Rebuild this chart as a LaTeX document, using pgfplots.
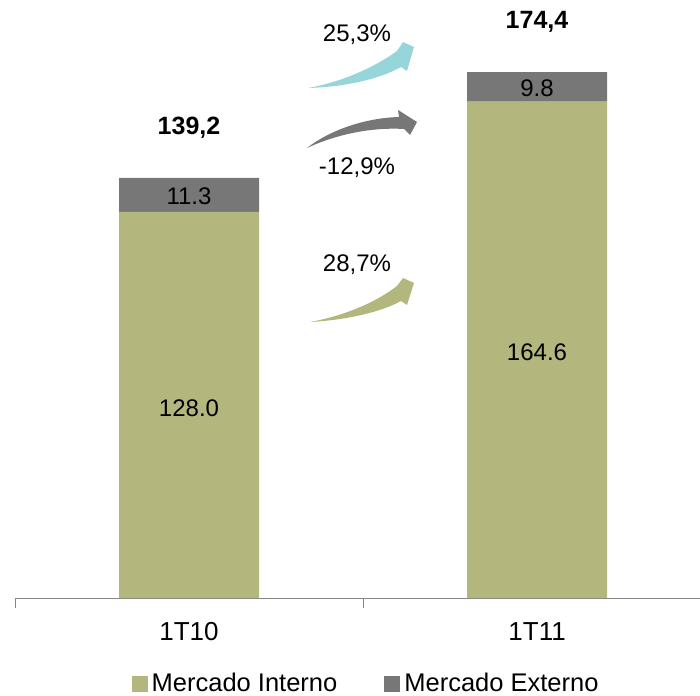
\documentclass[border=0pt]{standalone}
\usepackage{pgfplots}
\pgfplotsset{compat=1.18}
\usepackage{fontspec}
\setmainfont{Liberation Sans}

\definecolor{interno}{RGB}{179,182,125}
\definecolor{externo}{RGB}{119,119,119}
\definecolor{arrteal}{RGB}{150,213,217}
\definecolor{axisgray}{RGB}{134,134,134}

\newcommand{\lbl}{\fontsize{12}{14}\selectfont}

\begin{document}
\begin{tikzpicture}
\begin{axis}[
    scale only axis,
    width=342.5pt, height=299pt,
    ybar stacked,
    bar width=70pt,
    xmin=-0.5, xmax=1.468,
    ymin=0, ymax=198.3,
    xtick={0,1},
    xticklabels={1T10,1T11},
    major tick length=0pt,
    extra x ticks={-0.5,0.5},
    extra x tick labels={},
    extra x tick style={major tick length=5pt, tick align=outside},
    xtick style={draw=axisgray},
    axis x line*=bottom,
    hide y axis,
    x axis line style={draw=axisgray},
    xticklabel style={font=\fontsize{13}{15}\selectfont, anchor=center, yshift=-17pt},
    legend style={at={(0.514,-0.144)}, anchor=center, draw=none,
        font=\fontsize{12.75}{15}\selectfont,
        legend columns=2,
        /tikz/every even column/.append style={column sep=21.5pt}},
    legend image code/.code={\fill[#1] (0pt,-4pt) rectangle (8pt,4pt);},
    clip=false,
]
\addplot[fill=interno, draw=none] coordinates {(0,128.0) (1,164.6)};
\addplot[fill=externo, draw=none] coordinates {(0,11.3) (1,9.8)};
\legend{Mercado Interno, Mercado Externo}
\end{axis}

% pixel-like frame: x right, y down, origin at the top-left of the picture
\begin{scope}[x=0.5pt, y=-0.5pt, shift={(-7.5pt,299pt)}]
  % values inside the segments
  \node[font=\lbl] at (189,408) {128.0};
  \node[font=\lbl] at (189,196) {11.3};
  \node[font=\lbl] at (537,352) {164.6};
  \node[font=\lbl] at (537,88) {9.8};
  % totals
  \node[font=\fontsize{12.5}{15}\selectfont\bfseries] at (189,128) {139,2};
  \node[font=\fontsize{12.5}{15}\selectfont\bfseries] at (537,22) {174,4};
  % growth labels
  \node[font=\lbl] at (357,35) {25,3\%};
  \node[font=\lbl] at (357,168) {-12,9\%};
  \node[font=\lbl] at (357,265) {28,7\%};
  % curved arrows
  \fill[arrteal] (308,88) .. controls (345,87) and (380,79) .. (401,67)
      -- (407,71) -- (414,47) -- (403,42) -- (397,51)
      .. controls (375,67) and (342,82) .. (308,88) -- cycle;
  \fill[externo] (307,148) .. controls (330,130) and (365,118) .. (399,117)
      -- (398,110) -- (417,122) -- (410,135) -- (404,129)
      .. controls (370,127) and (335,135) .. (307,148) -- cycle;
  \fill[interno] (310,322) .. controls (347,320) and (381,312) .. (401,301)
      -- (407,305) -- (414,283) -- (403,278) -- (397,286)
      .. controls (375,303) and (343,316) .. (310,322) -- cycle;
  % fixed page frame
  \pgfresetboundingbox
  \path (0,0) rectangle (700,695);
\end{scope}
\end{tikzpicture}
\end{document}
